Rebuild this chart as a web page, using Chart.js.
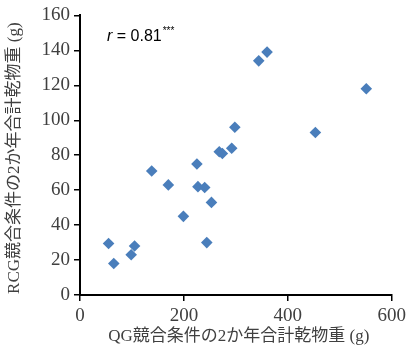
<!DOCTYPE html>
<html>
<head>
<script src="https://cdn.jsdelivr.net/npm/chart.js"></script>
<style>
body { margin: 0; background: #fff; }
</style>
</head>
<body>
<canvas id="c" width="410" height="351"></canvas>
<script>
// QG vs RCG dry weight (g)
var qgWeight  = [55, 65, 98.5, 105, 138, 170, 199, 225, 227, 240, 244, 253, 268, 274, 292, 298, 344, 360, 453, 551];
var rcgWeight = [29.5, 18, 23, 28, 71, 63, 45, 75, 62, 61.5, 30, 53, 82, 81, 84, 96, 134, 139, 93, 118];
var xTicks = [0, 200, 400, 600];
var yTicks = [0, 20, 40, 60, 80, 100, 120, 140, 160];
var xTitle = 'QG競合条件の2か年合計乾物重 (g)';
var yTitle = 'RCG競合条件の2か年合計乾物重 (g)';
var rLabel = 'r';
var rValue = ' = 0.81';
var rStars = '***';

var points = qgWeight.map(function (x, i) { return { x: x, y: rcgWeight[i] }; });
var tickFont = { family: '"Liberation Serif", "Noto Sans CJK JP"', size: 19 };
var textColor = '#404040';

var extras = {
  id: 'extras',
  afterDraw: function (chart) {
    var ctx = chart.ctx, a = chart.chartArea;
    ctx.save();
    ctx.fillStyle = textColor;
    ctx.font = '17px "Liberation Serif", "Noto Sans CJK JP"';
    ctx.textAlign = 'center';
    ctx.textBaseline = 'middle';
    ctx.fillText(xTitle, (a.left + a.right) / 2 + 3, 337);
    ctx.translate(15, (a.top + a.bottom) / 2 + 3);
    ctx.rotate(-Math.PI / 2);
    ctx.fillText(yTitle, 0, 0);
    ctx.restore();

    ctx.save();
    ctx.fillStyle = '#000';
    ctx.textAlign = 'left';
    ctx.textBaseline = 'alphabetic';
    var x = 107;
    ctx.font = 'italic 16px "Liberation Sans"';
    ctx.fillText(rLabel, x, 41);
    x += ctx.measureText(rLabel).width;
    ctx.font = '16px "Liberation Sans"';
    ctx.fillText(rValue, x, 41);
    x += ctx.measureText(rValue).width + 1;
    ctx.font = '10px "Liberation Sans"';
    ctx.fillText(rStars, x, 34);
    ctx.restore();
  }
};

function axis(ticks, fit) {
  return {
    type: 'linear',
    min: ticks[0],
    max: ticks[ticks.length - 1],
    afterBuildTicks: function (s) { s.ticks = ticks.map(function (v) { return { value: v }; }); },
    afterFit: fit,
    grid: { display: true, drawOnChartArea: false, drawTicks: true, tickLength: 6, color: '#000', lineWidth: 1.5 },
    border: { display: true, color: '#000', width: 2 },
    ticks: { font: tickFont, color: textColor, padding: 4 }
  };
}

new Chart(document.getElementById('c'), {
  type: 'scatter',
  data: {
    datasets: [{
      data: points,
      pointStyle: 'rectRot',
      pointRadius: 5.8,
      pointBorderWidth: 0,
      backgroundColor: '#4a7ebb',
      borderColor: '#4a7ebb'
    }]
  },
  options: {
    responsive: false,
    animation: false,
    layout: { padding: { left: 0, top: 13, right: 15, bottom: 0 } },
    plugins: { legend: { display: false }, tooltip: { enabled: false } },
    scales: {
      x: axis(xTicks, function (s) { s.height = 56; }),
      y: axis(yTicks, function (s) { s.width = 80; })
    }
  },
  plugins: [extras]
});
</script>
</body>
</html>
